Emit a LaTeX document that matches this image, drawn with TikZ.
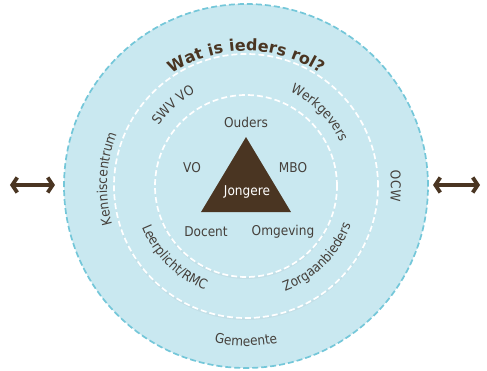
\documentclass[tikz,border=0pt]{standalone}
\usepackage{fontspec}
\setmainfont{DejaVu Sans}
\newfontfamily\rolfont{DejaVu Sans Condensed}
\usetikzlibrary{arrows.meta,decorations.text,shadows}

\definecolor{ringblue}{HTML}{C9E8F0}
\definecolor{ringedge}{HTML}{74C7D9}
\definecolor{roltext}{HTML}{45403B}
\definecolor{jongbrown}{HTML}{4A3522}

\begin{document}
\begin{tikzpicture}[x=1pt, y=1pt,
        ring/.style={fill=ringblue, line width=1.7pt, dash pattern=on 6pt off 3pt},
        innerring/.style={ring, draw=white, drop shadow={shadow xshift=0pt, shadow yshift=-2pt, opacity=0.08}},
        rol/.style={text=roltext, font=\rolfont\fontsize{13.5}{15}\selectfont},
        ringlabel/.style={decorate, decoration={text along path, text align=center, text color=roltext,
            text={|\rolfont\fontsize{13.5}{15}\selectfont|#1}}},
        twoway/.style={draw=jongbrown, line width=3.8pt,
            arrows={Straight Barb[length=5pt, width=15pt]-Straight Barb[length=5pt, width=15pt]}}]
    \useasboundingbox (-246, -184) rectangle (241, 186);

    % the three circles
    \draw[ring, draw=ringedge] (0, 0) circle[radius=182];
    \draw[innerring] (0, 0) circle[radius=132];
    \draw[innerring] (0, 0) circle[radius=91];

    % Jongere in the middle
    \fill[jongbrown] (0, 49) coordinate (top) -- (45, -26) coordinate (right) -- (-45, -26) coordinate (left) -- cycle;
    \node[rol, text=white] (jongere) at (1, -6) {Jongere};

    \node[rol] (ouders) at (0, 64) {Ouders};
    \node[rol] (vo) at (-54, 18) {VO};
    \node[rol] (mbo) at (47, 18) {MBO};
    \node[rol] (docent) at (-40, -46) {Docent};
    \node[rol] (omgeving) at (37, -46) {Omgeving};

    % middle ring
    \path[ringlabel={SWV VO}] (162:106) arc[start angle=162, end angle=102, radius=106];
    \path[ringlabel={Werkgevers}] (75:104) arc[start angle=75, end angle=15, radius=104];
    \path[ringlabel={Leerplicht/RMC}] (195:112) arc[start angle=195, end angle=255, radius=112];
    \path[ringlabel={Zorgaanbieders}] (-75:112) arc[start angle=-75, end angle=-15, radius=112];

    % outer ring
    \path[decorate, decoration={text along path, text align=center, text color=jongbrown,
        text={|\fontsize{16}{18}\selectfont\bfseries|Wat is ieders rol?}}]
        (150:135) arc[start angle=150, end angle=30, radius=135];
    \path[ringlabel={Kenniscentrum}] (217:139) arc[start angle=217, end angle=137, radius=139];
    \path[ringlabel={OCW}] (20:145) arc[start angle=20, end angle=-20, radius=145];
    \path[ringlabel={Gemeente}] (240:160) arc[start angle=240, end angle=300, radius=160];

    % arrows at the sides
    \coordinate (lefta) at (-236, 1);
    \coordinate (leftb) at (-191, 1);
    \coordinate (righta) at (187, 1);
    \coordinate (rightb) at (234, 1);
    \draw[twoway] (lefta) -- (leftb);
    \draw[twoway] (righta) -- (rightb);
\end{tikzpicture}
\end{document}
